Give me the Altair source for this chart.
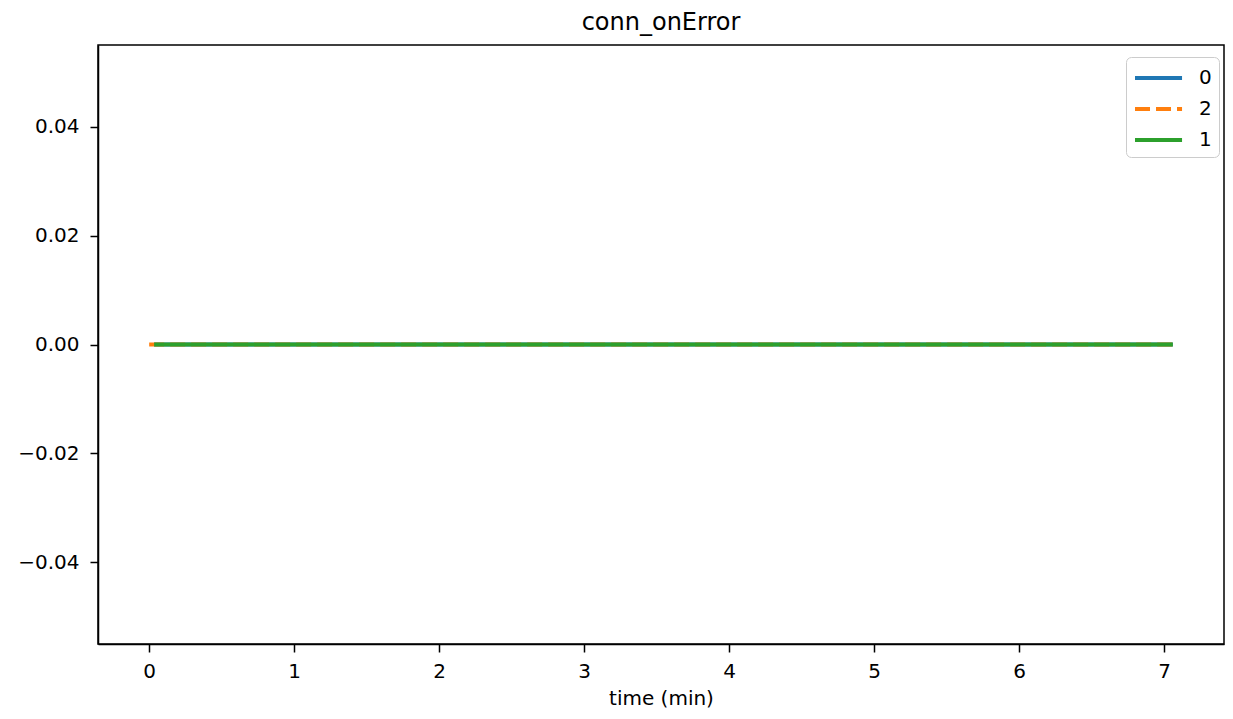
import altair as alt
import pandas as pd

series_names = ["0", "2", "1"]
series_times = [
    [0.034, 1.0, 2.0, 3.0, 4.0, 5.0, 6.0, 7.06],
    [0.0, 1.0, 2.0, 3.0, 4.0, 5.0, 6.0, 7.06],
    [0.034, 1.0, 2.0, 3.0, 4.0, 5.0, 6.0, 7.06],
]
series_values = [
    [0, 0, 0, 0, 0, 0, 0, 0],
    [0, 0, 0, 0, 0, 0, 0, 0],
    [0, 0, 0, 0, 0, 0, 0, 0],
]
colors = ["#1f77b4", "#ff7f0e", "#2ca02c"]
dashes = [[1, 0], [15, 6], [1, 0]]
x_ticks = [0, 1, 2, 3, 4, 5, 6, 7]
y_ticks = [-0.04, -0.02, 0.0, 0.02, 0.04]

rows = []
for i, (name, ts, vs) in enumerate(zip(series_names, series_times, series_values)):
    for t, v in zip(ts, vs):
        rows.append({"series": name, "order": i, "time": t, "value": v})
df = pd.DataFrame(rows)

FONT = "DejaVu Sans"


def make_legend():
    return alt.Legend(
        title=None,
        orient="none",
        legendX=1028,
        legendY=12,
        symbolType="M-1,0H2.92",
        symbolStrokeWidth=4,
        symbolSize=576,
        symbolFillColor="transparent",
        labelFontSize=20,
        labelFont=FONT,
        labelColor="black",
        labelOffset=38,
        strokeColor="#cccccc",
        cornerRadius=5,
        padding=7,
        rowPadding=7,
        fillColor="white",
    )


chart = (
    alt.Chart(df)
    .mark_line(strokeWidth=4, clip=True)
    .encode(
        x=alt.X(
            "time:Q",
            title="time (min)",
            scale=alt.Scale(domain=[-0.353, 7.413], nice=False, zero=False),
            axis=alt.Axis(values=x_ticks, format="d", grid=False, labelFlush=False,
                          labelPadding=9, titlePadding=7),
        ),
        y=alt.Y(
            "value:Q",
            title=None,
            scale=alt.Scale(domain=[-0.055, 0.055], nice=False, zero=False),
            axis=alt.Axis(values=y_ticks, format=".2f", grid=False, labelPadding=11),
        ),
        color=alt.Color(
            "series:N",
            scale=alt.Scale(domain=series_names, range=colors),
            legend=make_legend(),
        ),
        strokeDash=alt.StrokeDash(
            "series:N",
            scale=alt.Scale(domain=series_names, range=dashes),
            legend=make_legend(),
        ),
        order=alt.Order("order:Q"),
        detail="series:N",
    )
    .properties(
        width=1126,
        height=599,
        title=alt.Title(
            "conn_onError", fontSize=24, font=FONT, fontWeight="normal",
            color="black", offset=10,
        ),
        autosize=alt.AutoSizeParams(type="none"),
        padding={"left": 90, "top": 37, "right": 1, "bottom": 67},
    )
    .configure_view(stroke="black", strokeWidth=1.5)
    .configure_axis(
        domainColor="black",
        domainWidth=1.5,
        tickColor="black",
        tickWidth=1.5,
        tickSize=8,
        labelFont=FONT,
        labelFontSize=20,
        labelColor="black",
        titleFont=FONT,
        titleFontSize=20,
        titleFontWeight="normal",
        titleColor="black",
    )
)

chart.save("out.html", embed_options={"renderer": "svg", "actions": False})
